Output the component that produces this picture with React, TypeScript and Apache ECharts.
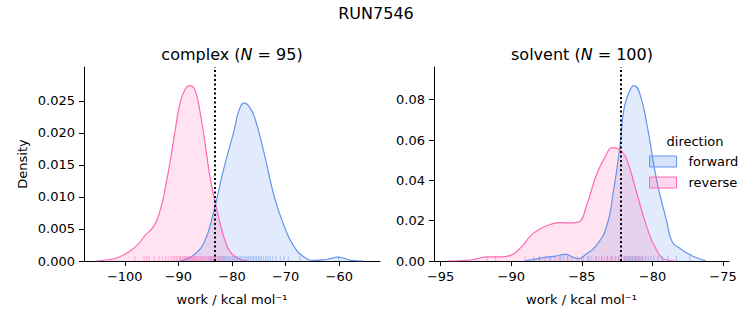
import React, { useEffect, useRef } from 'react';
import * as echarts from 'echarts';

const FORWARD = '#6495ED';
const REVERSE = '#FF69B4';
const FORWARD_FILL = 'rgba(100,149,237,0.27)';
const REVERSE_FILL = 'rgba(255,105,180,0.27)';
const FONT = 'DejaVu Sans';

const suptitle = 'RUN7546';
const panelNames = ['complex', 'solvent'];
const panelN = [95, 100];
const directions = ['forward', 'reverse'];

// KDE curves: [work, density]
const complexForwardKde: [number, number][] = [
  [-90.0, 0], [-88.9, 0.0002], [-87.2, 0.0009], [-85.3, 0.0027], [-83.5, 0.0074],
  [-81.6, 0.0142], [-79.6, 0.0204], [-78.7, 0.0235], [-77.7, 0.0247], [-76.7, 0.024],
  [-75.8, 0.0225], [-74.0, 0.0168], [-72.1, 0.01], [-70.2, 0.0053], [-68.4, 0.0022],
  [-66.5, 0.0006], [-64.7, 0.0001], [-62.8, 0.0002], [-61.5, 0.0004], [-60.3, 0.0006],
  [-59.0, 0.0004], [-57.8, 0.0001], [-55.4, 0],
];
const complexReverseKde: [number, number][] = [
  [-105.3, 0], [-103.0, 0.0002], [-101.4, 0.0005], [-99.6, 0.00125], [-97.7, 0.00245],
  [-96.2, 0.004], [-94.6, 0.0054], [-93.4, 0.0079], [-92.4, 0.0116], [-91.5, 0.0157],
  [-90.6, 0.0204], [-89.7, 0.0246], [-88.7, 0.0269], [-87.8, 0.0274], [-86.9, 0.0267],
  [-85.9, 0.023], [-85.0, 0.0183], [-84.1, 0.0131], [-83.1, 0.009], [-82.2, 0.0058],
  [-81.3, 0.0032], [-80.3, 0.0014], [-78.6, 0.0003], [-77.0, 0],
];
const solventForwardKde: [number, number][] = [
  [-89.1, 0], [-87.7, 0.0017], [-87.0, 0.0023], [-86.15, 0.0033], [-85.6, 0.0018],
  [-85.2, 0.0012], [-84.8, 0.0028], [-84.0, 0.0075], [-83.25, 0.017], [-82.8, 0.033],
  [-82.3, 0.057], [-82.0, 0.076], [-81.6, 0.0846], [-81.3, 0.087], [-80.9, 0.083],
  [-80.4, 0.068], [-79.7, 0.04], [-79.0, 0.02], [-78.6, 0.0095], [-78.1, 0.0065],
  [-77.5, 0.0037], [-77.0, 0.002], [-76.2, 0],
];
const solventReverseKde: [number, number][] = [
  [-94.5, 0], [-93.1, 0.0003], [-92.4, 0.0012], [-91.7, 0.002], [-90.8, 0.002],
  [-90.05, 0.0028], [-89.3, 0.0069], [-88.6, 0.0127], [-87.9, 0.0161], [-87.2, 0.0182],
  [-86.5, 0.019], [-85.8, 0.0189], [-85.2, 0.0195], [-84.7, 0.0268], [-84.0, 0.042],
  [-83.4, 0.051], [-82.8, 0.0562], [-82.2, 0.0545], [-81.8, 0.05], [-81.1, 0.0334],
  [-80.4, 0.0169], [-79.7, 0.0053], [-79.0, 0.0005], [-78.3, 0],
];

// rug samples (work values)
const complexForwardRug = [
  -84.3, -83.9, -83.5, -83.1, -82.7, -82.3, -82.0, -81.7, -81.4, -81.1, -80.8, -80.5,
  -80.2, -79.9, -79.6, -79.3, -79.0, -78.7, -78.4, -78.1, -77.8, -77.5, -77.2, -76.9,
  -76.6, -76.3, -76.0, -75.7, -75.4, -75.1, -74.8, -74.5, -74.1, -73.7, -73.3, -72.9,
  -72.4, -71.8, -71.0, -70.3, -69.5, -67.3, -60.1,
];
const complexReverseRug = [
  -98.1, -96.4, -95.9, -95.5, -94.5, -93.6, -93.0, -92.4, -91.9, -91.4, -91.0, -90.7,
  -90.4, -90.1, -89.8, -89.6, -89.3, -89.1, -88.9, -88.7, -88.5, -88.3, -88.1, -87.9,
  -87.8, -87.6, -87.4, -87.2, -87.0, -86.8, -86.6, -86.4, -86.2, -86.0, -85.8, -85.6,
  -85.4, -85.1, -84.9, -84.6, -84.3, -84.0, -83.7, -83.4, -83.0, -82.6, -82.2, -81.6,
];
const solventForwardRug = [
  -88.0, -87.2, -86.5, -86.0, -85.0, -84.5, -84.0, -83.6, -83.2, -82.9, -82.6, -82.4,
  -82.2, -82.0, -81.9, -81.8, -81.7, -81.6, -81.5, -81.4, -81.3, -81.2, -81.1, -81.0,
  -80.9, -80.8, -80.7, -80.5, -80.3, -80.1, -79.9, -79.6, -79.3, -78.9, -78.3, -77.35,
];
const solventReverseRug = [
  -91.7, -91.1, -89.0, -88.4, -88.0, -87.6, -87.3, -86.9, -86.6, -86.3, -86.0, -85.7,
  -85.3, -84.9, -84.6, -84.3, -84.0, -83.8, -83.6, -83.4, -83.2, -83.0, -82.8, -82.6,
  -82.4, -82.2, -82.0, -81.8, -81.6, -81.4, -81.2, -81.0, -80.7,
];

// dotted reference lines
const complexRefLine = -83.2;
const solventRefLine = -82.25;

// axis ranges and ticks
const complexXRange = [-107.6, -52.4];
const solventXRange = [-95.47, -74.58];
const complexYMax = 0.0303;
const solventYMax = 0.0962;
const complexXTicks = [-100, -90, -80, -70, -60];
const solventXTicks = [-95, -90, -85, -80, -75];
const complexYTicks = [0, 0.005, 0.01, 0.015, 0.02, 0.025];
const solventYTicks = [0, 0.02, 0.04, 0.06, 0.08];

const fmtMinus = (v: number) => (v < 0 ? '\u2212' + String(Math.abs(v)) : String(v));

function xAxisFor(gridIndex: number, range: number[], ticks: number[]) {
  return {
    type: 'value',
    gridIndex,
    min: range[0],
    max: range[1],
    splitLine: { show: false },
    axisLine: { show: true, onZero: false, lineStyle: { color: '#000', width: 1 } },
    axisTick: { show: true, length: 5, customValues: ticks, lineStyle: { color: '#000', width: 1 } },
    axisLabel: {
      customValues: ticks,
      formatter: fmtMinus,
      color: '#000',
      fontSize: 13,
      fontFamily: FONT,
      margin: 9,
    },
    name: 'work / kcal mol\u207B\u00B9',
    nameLocation: 'middle',
    nameGap: 32,
    nameTextStyle: { color: '#000', fontSize: 13, fontFamily: FONT },
  };
}

function yAxisFor(gridIndex: number, max: number, ticks: number[], digits: number, withName: boolean) {
  return {
    type: 'value',
    gridIndex,
    min: 0,
    max,
    splitLine: { show: false },
    axisLine: { show: true, lineStyle: { color: '#000', width: 1 } },
    axisTick: { show: true, length: 5, customValues: ticks, lineStyle: { color: '#000', width: 1 } },
    axisLabel: {
      customValues: ticks,
      formatter: (v: number) => v.toFixed(digits),
      color: '#000',
      fontSize: 13,
      fontFamily: FONT,
      margin: 9,
    },
    name: withName ? 'Density' : '',
    nameLocation: 'middle',
    nameGap: 55,
    nameTextStyle: { color: '#000', fontSize: 13, fontFamily: FONT },
  };
}

function kdeSeries(name: string, data: [number, number][], idx: number, color: string, fill: string, refLine?: number) {
  const s: any = {
    type: 'line',
    name,
    xAxisIndex: idx,
    yAxisIndex: idx,
    data,
    smooth: 0.5,
    showSymbol: false,
    symbol: 'none',
    lineStyle: { color, width: 1.2 },
    itemStyle: { color },
    areaStyle: { color: fill, origin: 'start' },
    z: 2,
  };
  if (refLine !== undefined) {
    s.markLine = {
      silent: true,
      symbol: ['none', 'none'],
      label: { show: false },
      lineStyle: { color: '#000', width: 2, type: [2, 2.5] },
      data: [{ xAxis: refLine }],
      z: 5,
    };
  }
  return s;
}

function rugSeries(name: string, values: number[], idx: number, color: string) {
  return {
    type: 'scatter',
    name,
    xAxisIndex: idx,
    yAxisIndex: idx,
    data: values.map((v) => [v, 0]),
    symbol: 'rect',
    symbolSize: [1, 5],
    symbolOffset: [0, -2.5],
    itemStyle: { color, opacity: 0.5 },
    z: 3,
    silent: true,
  };
}

const panelTitle = (i: number) => `${panelNames[i]} ({i|N} = ${panelN[i]})`;

export default function App() {
  const ref = useRef<HTMLDivElement>(null);
  useEffect(() => {
    document.body.style.margin = '0';
    const chart = echarts.init(ref.current!, null, { renderer: 'svg' });
    const option: any = {
      animation: false,
      backgroundColor: '#fff',
      textStyle: { fontFamily: FONT },
      grid: [
        { left: 84, top: 67, width: 296, height: 194 },
        { left: 434, top: 67, width: 295, height: 194 },
      ],
      xAxis: [
        xAxisFor(0, complexXRange, complexXTicks),
        xAxisFor(1, solventXRange, solventXTicks),
      ],
      yAxis: [
        yAxisFor(0, complexYMax, complexYTicks, 3, true),
        yAxisFor(1, solventYMax, solventYTicks, 2, false),
      ],
      legend: {
        orient: 'vertical',
        left: 649,
        top: 155,
        padding: 0,
        icon: 'rect',
        itemWidth: 27,
        itemHeight: 11,
        itemGap: 8,
        textStyle: { color: '#000', fontSize: 13, fontFamily: FONT, padding: [0, 0, 0, 7] },
        data: [
          { name: directions[0], itemStyle: { color: FORWARD_FILL, borderColor: FORWARD, borderWidth: 1 } },
          { name: directions[1], itemStyle: { color: REVERSE_FILL, borderColor: REVERSE, borderWidth: 1 } },
        ],
      },
      graphic: [
        {
          type: 'text',
          x: 376,
          y: 13,
          style: { text: suptitle, fontSize: 16, fontFamily: FONT, fill: '#000', align: 'center', verticalAlign: 'middle' },
        },
        {
          type: 'text',
          x: 232,
          y: 54,
          style: {
            text: panelTitle(0),
            fontSize: 16,
            fontFamily: FONT,
            fill: '#000',
            align: 'center',
            verticalAlign: 'middle',
            rich: { i: { fontStyle: 'italic', fontSize: 16, fontFamily: FONT, fill: '#000' } },
          },
        },
        {
          type: 'text',
          x: 582,
          y: 54,
          style: {
            text: panelTitle(1),
            fontSize: 16,
            fontFamily: FONT,
            fill: '#000',
            align: 'center',
            verticalAlign: 'middle',
            rich: { i: { fontStyle: 'italic', fontSize: 16, fontFamily: FONT, fill: '#000' } },
          },
        },
        {
          type: 'text',
          x: 695,
          y: 141,
          style: { text: 'direction', fontSize: 13, fontFamily: FONT, fill: '#000', align: 'center', verticalAlign: 'middle' },
        },
      ],
      series: [
        kdeSeries(directions[0], complexForwardKde, 0, FORWARD, FORWARD_FILL, complexRefLine),
        kdeSeries(directions[1], complexReverseKde, 0, REVERSE, REVERSE_FILL),
        kdeSeries(directions[0], solventForwardKde, 1, FORWARD, FORWARD_FILL, solventRefLine),
        kdeSeries(directions[1], solventReverseKde, 1, REVERSE, REVERSE_FILL),
        rugSeries(directions[0], complexForwardRug, 0, FORWARD),
        rugSeries(directions[1], complexReverseRug, 0, REVERSE),
        rugSeries(directions[0], solventForwardRug, 1, FORWARD),
        rugSeries(directions[1], solventReverseRug, 1, REVERSE),
      ],
    };
    chart.setOption(option);
    return () => chart.dispose();
  }, []);
  return <div ref={ref} style={{ width: 753, height: 325 }} />;
}
